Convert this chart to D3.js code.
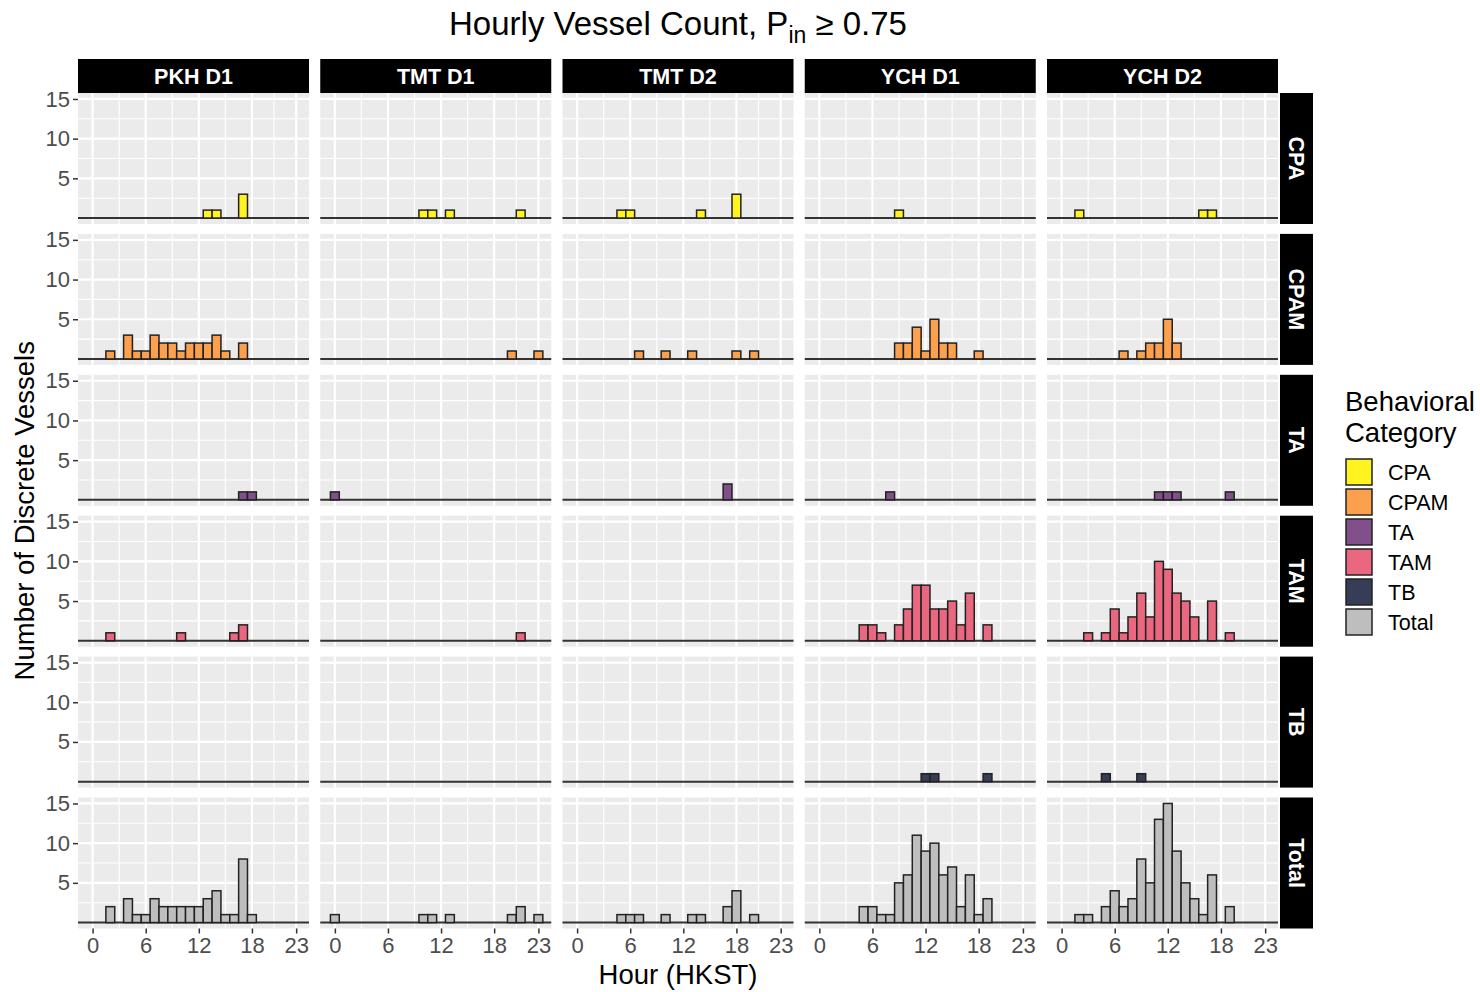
<!DOCTYPE html>
<html>
<head>
<meta charset="utf-8">
<script src="https://cdn.jsdelivr.net/npm/d3@7"></script>
<style>
  body { margin: 0; background: #fff; }
  svg { font-family: "Liberation Sans", Arial, sans-serif; }
</style>
</head>
<body>
<div id="chart"></div>
<script>
// data
var sites = ["PKH D1", "TMT D1", "TMT D2", "YCH D1", "YCH D2"];
var categories = ["CPA", "CPAM", "TA", "TAM", "TB", "Total"];
var hours = [0,1,2,3,4,5,6,7,8,9,10,11,12,13,14,15,16,17,18,19,20,21,22,23];
var hourTicks = [0, 6, 12, 18, 23];
var countTicks = [5, 10, 15];

// one array of 24 hourly counts per site, in the order of `sites`
var cpaCounts = [
  [0,0,0,0,0,0,0,0,0,0,0,0,0,1,1,0,0,3,0,0,0,0,0,0],
  [0,0,0,0,0,0,0,0,0,0,1,1,0,1,0,0,0,0,0,0,0,1,0,0],
  [0,0,0,0,0,1,1,0,0,0,0,0,0,0,1,0,0,0,3,0,0,0,0,0],
  [0,0,0,0,0,0,0,0,0,1,0,0,0,0,0,0,0,0,0,0,0,0,0,0],
  [0,0,1,0,0,0,0,0,0,0,0,0,0,0,0,0,1,1,0,0,0,0,0,0]
];
var cpamCounts = [
  [0,0,1,0,3,1,1,3,2,2,1,2,2,2,3,1,0,2,0,0,0,0,0,0],
  [0,0,0,0,0,0,0,0,0,0,0,0,0,0,0,0,0,0,0,0,1,0,0,1],
  [0,0,0,0,0,0,0,1,0,0,1,0,0,1,0,0,0,0,1,0,1,0,0,0],
  [0,0,0,0,0,0,0,0,0,2,2,4,1,5,2,2,0,0,1,0,0,0,0,0],
  [0,0,0,0,0,0,0,1,0,1,2,2,5,2,0,0,0,0,0,0,0,0,0,0]
];
var taCounts = [
  [0,0,0,0,0,0,0,0,0,0,0,0,0,0,0,0,0,1,1,0,0,0,0,0],
  [1,0,0,0,0,0,0,0,0,0,0,0,0,0,0,0,0,0,0,0,0,0,0,0],
  [0,0,0,0,0,0,0,0,0,0,0,0,0,0,0,0,0,2,0,0,0,0,0,0],
  [0,0,0,0,0,0,0,0,1,0,0,0,0,0,0,0,0,0,0,0,0,0,0,0],
  [0,0,0,0,0,0,0,0,0,0,0,1,1,1,0,0,0,0,0,1,0,0,0,0]
];
var tamCounts = [
  [0,0,1,0,0,0,0,0,0,0,1,0,0,0,0,0,1,2,0,0,0,0,0,0],
  [0,0,0,0,0,0,0,0,0,0,0,0,0,0,0,0,0,0,0,0,0,1,0,0],
  [0,0,0,0,0,0,0,0,0,0,0,0,0,0,0,0,0,0,0,0,0,0,0,0],
  [0,0,0,0,0,2,2,1,0,2,4,7,7,4,4,5,2,6,0,2,0,0,0,0],
  [0,0,0,1,0,1,4,1,3,6,3,10,9,6,5,3,0,5,0,1,0,0,0,0]
];
var tbCounts = [
  [0,0,0,0,0,0,0,0,0,0,0,0,0,0,0,0,0,0,0,0,0,0,0,0],
  [0,0,0,0,0,0,0,0,0,0,0,0,0,0,0,0,0,0,0,0,0,0,0,0],
  [0,0,0,0,0,0,0,0,0,0,0,0,0,0,0,0,0,0,0,0,0,0,0,0],
  [0,0,0,0,0,0,0,0,0,0,0,0,1,1,0,0,0,0,0,1,0,0,0,0],
  [0,0,0,0,0,1,0,0,0,1,0,0,0,0,0,0,0,0,0,0,0,0,0,0]
];
var totalCounts = [
  [0,0,2,0,3,1,1,3,2,2,2,2,2,3,4,1,1,8,1,0,0,0,0,0],
  [1,0,0,0,0,0,0,0,0,0,1,1,0,1,0,0,0,0,0,0,1,2,0,1],
  [0,0,0,0,0,1,1,1,0,0,1,0,0,1,1,0,0,2,4,0,1,0,0,0],
  [0,0,0,0,0,2,2,1,1,5,6,11,9,10,6,7,2,6,1,3,0,0,0,0],
  [0,0,1,1,0,2,4,2,3,8,5,13,15,9,5,3,1,6,0,2,0,0,0,0]
];

var countsByCategory = [cpaCounts, cpamCounts, taCounts, tamCounts, tbCounts, totalCounts];
var fills = ["#FFF41F", "#FDA04E", "#81508A", "#E9687F", "#363D57", "#BEBEBE"];

// layout
var svgWidth = 1480, svgHeight = 992;
var panelLeft = 78, panelTop = 93;
var panelW = 231, panelH = 131;
var colStep = 242.25, rowStep = 140.9;
var stripH = 34, stripW = 33;

var svg = d3.select("#chart").append("svg")
  .attr("width", svgWidth)
  .attr("height", svgHeight);

var x = d3.scaleLinear().domain([-1.65, 24.45]).range([0, panelW]);
var y = d3.scaleLinear().domain([-0.75, 15.75]).range([panelH, 0]);

var xMinor = [3, 9, 15, 20.5];
var yMinor = [2.5, 7.5, 12.5];

// title
var title = svg.append("text")
  .attr("x", panelLeft + (4 * colStep + panelW) / 2)
  .attr("y", 35)
  .attr("text-anchor", "middle")
  .attr("font-size", "33px")
  .attr("fill", "#000");
title.append("tspan").text("Hourly Vessel Count, P");
title.append("tspan").attr("font-size", "23px").attr("dy", 8).text("in");
title.append("tspan").attr("dy", -8).text(" \u2265 0.75");

categories.forEach(function(cat, r) {
  sites.forEach(function(site, c) {
    var g = svg.append("g")
      .attr("transform", "translate(" + (panelLeft + c * colStep) + "," + (panelTop + r * rowStep) + ")");

    g.append("rect")
      .attr("width", panelW)
      .attr("height", panelH)
      .attr("fill", "#EBEBEB");

    // minor grid
    g.selectAll(".vminor").data(xMinor).enter().append("line")
      .attr("x1", d => x(d)).attr("x2", d => x(d))
      .attr("y1", 0).attr("y2", panelH)
      .attr("stroke", "#fff").attr("stroke-width", 1.1);
    g.selectAll(".hminor").data(yMinor).enter().append("line")
      .attr("x1", 0).attr("x2", panelW)
      .attr("y1", d => y(d)).attr("y2", d => y(d))
      .attr("stroke", "#fff").attr("stroke-width", 1.1);
    // major grid
    g.selectAll(".vmajor").data(hourTicks).enter().append("line")
      .attr("x1", d => x(d)).attr("x2", d => x(d))
      .attr("y1", 0).attr("y2", panelH)
      .attr("stroke", "#fff").attr("stroke-width", 2.2);
    g.selectAll(".hmajor").data(countTicks).enter().append("line")
      .attr("x1", 0).attr("x2", panelW)
      .attr("y1", d => y(d)).attr("y2", d => y(d))
      .attr("stroke", "#fff").attr("stroke-width", 2.2);

    // baseline at zero
    g.append("line")
      .attr("x1", 0).attr("x2", panelW)
      .attr("y1", y(0)).attr("y2", y(0))
      .attr("stroke", "#333").attr("stroke-width", 2);

    var counts = countsByCategory[r][c];
    var bins = hours.map(function(h) { return { hour: h, n: counts[h] }; })
      .filter(function(d) { return d.n > 0; });

    g.selectAll(".bar").data(bins).enter().append("rect")
      .attr("x", d => x(d.hour - 0.5))
      .attr("width", d => x(d.hour + 0.5) - x(d.hour - 0.5))
      .attr("y", d => y(d.n))
      .attr("height", d => y(0) - y(d.n))
      .attr("fill", fills[r])
      .attr("stroke", "#222")
      .attr("stroke-width", 1.5);

    // y axis on first column
    if (c === 0) {
      var ya = g.append("g")
        .call(d3.axisLeft(y).tickValues(countTicks).tickSize(5).tickPadding(3));
      ya.select(".domain").remove();
      ya.selectAll("line").attr("stroke", "#333").attr("stroke-width", 1.5);
      ya.selectAll("text").attr("font-size", "22px").attr("fill", "#4D4D4D")
        .attr("font-family", "Liberation Sans, Arial, sans-serif");
    }
    // x axis on last row
    if (r === categories.length - 1) {
      var xa = g.append("g")
        .attr("transform", "translate(0," + panelH + ")")
        .call(d3.axisBottom(x).tickValues(hourTicks).tickSize(5).tickPadding(4));
      xa.select(".domain").remove();
      xa.selectAll("line").attr("stroke", "#333").attr("stroke-width", 1.5);
      xa.selectAll("text").attr("font-size", "22px").attr("fill", "#4D4D4D")
        .attr("font-family", "Liberation Sans, Arial, sans-serif");
    }
  });
});

// column strips
sites.forEach(function(site, c) {
  var sx = panelLeft + c * colStep;
  svg.append("rect")
    .attr("x", sx).attr("y", panelTop - stripH)
    .attr("width", panelW).attr("height", stripH)
    .attr("fill", "#000");
  svg.append("text")
    .attr("x", sx + panelW / 2)
    .attr("y", panelTop - stripH / 2)
    .attr("dy", "0.35em")
    .attr("text-anchor", "middle")
    .attr("font-size", "21.5px")
    .attr("font-weight", "bold")
    .attr("fill", "#fff")
    .text(site);
});

// row strips
var stripX = panelLeft + 4 * colStep + panelW + 2;
categories.forEach(function(cat, r) {
  var sy = panelTop + r * rowStep;
  svg.append("rect")
    .attr("x", stripX).attr("y", sy)
    .attr("width", stripW).attr("height", panelH)
    .attr("fill", "#000");
  svg.append("text")
    .attr("transform", "translate(" + (stripX + stripW / 2) + "," + (sy + panelH / 2) + ") rotate(90)")
    .attr("dy", "0.35em")
    .attr("text-anchor", "middle")
    .attr("font-size", "21.5px")
    .attr("font-weight", "bold")
    .attr("fill", "#fff")
    .text(cat);
});

// axis titles
var gridBottom = panelTop + 5 * rowStep + panelH;
svg.append("text")
  .attr("x", panelLeft + (4 * colStep + panelW) / 2)
  .attr("y", 984)
  .attr("text-anchor", "middle")
  .attr("font-size", "27.5px")
  .text("Hour (HKST)");

svg.append("text")
  .attr("transform", "translate(34," + ((panelTop + gridBottom) / 2) + ") rotate(-90)")
  .attr("text-anchor", "middle")
  .attr("font-size", "27.5px")
  .text("Number of Discrete Vessels");

// legend
var legend = svg.append("g").attr("transform", "translate(1345,0)");
legend.append("text").attr("x", 0).attr("y", 411).attr("font-size", "27.5px").text("Behavioral");
legend.append("text").attr("x", 0).attr("y", 442).attr("font-size", "27.5px").text("Category");
categories.forEach(function(cat, i) {
  var cy = 472 + i * 30;
  legend.append("rect")
    .attr("x", 1).attr("y", cy - 13)
    .attr("width", 26).attr("height", 26)
    .attr("fill", fills[i])
    .attr("stroke", "#222")
    .attr("stroke-width", 1.5);
  legend.append("text")
    .attr("x", 43).attr("y", cy)
    .attr("dy", "0.35em")
    .attr("font-size", "21.5px")
    .text(cat);
});
</script>
</body>
</html>
